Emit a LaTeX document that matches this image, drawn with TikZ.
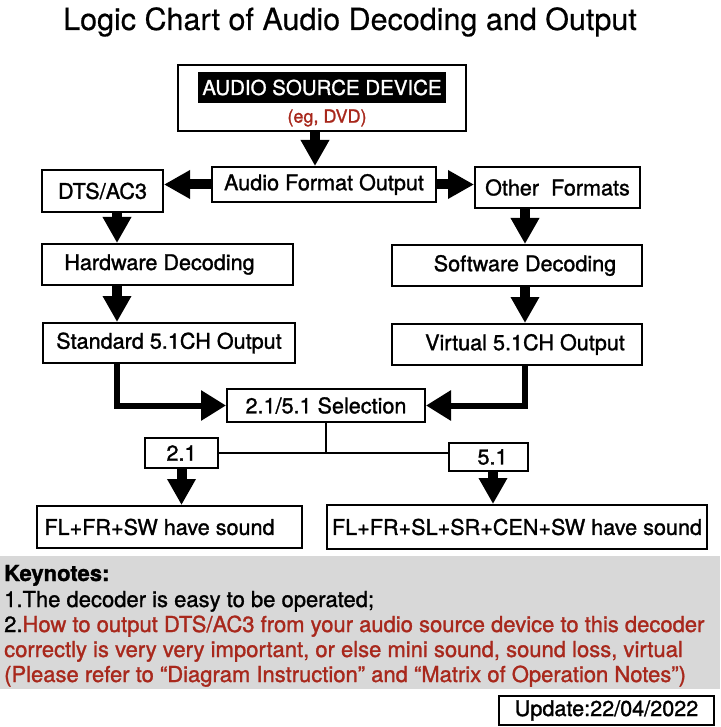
\documentclass[tikz,border=0pt]{standalone}
\usepackage{fontspec}
\setmainfont{TeX Gyre Heros}[FakeBold=1.3]
\newfontfamily\titlefont{TeX Gyre Heros}[FakeBold=0.5]
\usetikzlibrary{arrows.meta}
\definecolor{notered}{RGB}{168,40,28}
\definecolor{notegray}{RGB}{216,216,216}

\begin{document}
\begin{tikzpicture}[x=1pt, y=-1pt,
  every node/.style={inner sep=0pt, font=\fontsize{21.6}{26}\selectfont},
  box/.style={draw, line width=2pt, fill=white},
  fat/.style={line width=10pt, -{Triangle[width=27pt, length=26pt]}},
  elbow/.style={line width=6pt, -{Triangle[width=29pt, length=25pt]}},
  link/.style={line width=2pt},
  note/.style={anchor=base west, font=\fontsize{22}{25}\selectfont}]
  \useasboundingbox (0,0) rectangle (720,727);

  % title
  \node[anchor=base, font=\titlefont\fontsize{30.5}{36}\selectfont] (title) at (350,30) {Logic Chart of Audio Decoding and Output};

  % source
  \node[box, minimum width=288pt, minimum height=66pt] (src) at (322,98) {};
  \node[fill=black, text=white, minimum width=248pt, minimum height=31pt, font=\fontsize{20.5}{24}\selectfont] (srclabel) at (322,87.5) {AUDIO SOURCE DEVICE};
  \node[text=notered, font=\fontsize{18}{22}\selectfont] (srcnote) at (327,118) {(eg, DVD)};

  % chart boxes
  \node[box, minimum width=224pt, minimum height=35pt] (afo) at (324,184.5) {Audio Format Output};
  \node[box, minimum width=121pt, minimum height=42pt] (dts) at (102.5,191) {DTS/AC3};
  \node[box, minimum width=165pt, minimum height=41pt] (other) at (557.5,187.5) {Other\ \ Formats};
  \node[box, minimum width=251pt, minimum height=41pt] (hw) at (167.5,264.5) {Hardware Decoding\hspace*{16pt}};
  \node[box, minimum width=252pt, minimum height=40pt] (std) at (169,343) {Standard 5.1CH Output};
  \node[box, minimum width=250pt, minimum height=41pt] (sw) at (517,265.5) {\hspace*{16pt}Software Decoding};
  \node[box, minimum width=250pt, minimum height=41pt] (virt) at (517,344.5) {\hspace*{16pt}Virtual 5.1CH Output};
  \node[box, minimum width=198pt, minimum height=33pt] (sel) at (326,405.5) {2.1/5.1 Selection};
  \node[box, minimum width=73pt, minimum height=30pt] (two) at (181.5,453) {2.1};
  \node[box, minimum width=79pt, minimum height=28pt] (five) at (488.5,457) {\hspace*{8pt}5.1};
  \node[box, minimum width=265pt, minimum height=42pt] (twoout) at (169.5,527) {FL+FR+SW have sound\hspace*{20pt}};
  \node[box, minimum width=380pt, minimum height=44pt] (fiveout) at (517,527) {FL+FR+SL+SR+CEN+SW have sound};

  % arrow columns
  \coordinate (mx) at (315,0);
  \coordinate (lx) at (117,0);
  \coordinate (rx) at (525,0);
  \coordinate (fx) at (493,0);

  \draw[fat] (mx |- src.south) -- (mx |- afo.north);
  \draw[fat] (afo.west) -- (dts.east |- afo.west);
  \draw[fat] (afo.east) -- (other.west |- afo.east);
  \draw[fat] (lx |- dts.south) -- (lx |- hw.north);
  \draw[fat] (lx |- hw.south) -- (lx |- std.north);
  \draw[fat] (rx |- other.south) -- (rx |- sw.north);
  \draw[fat] (rx |- sw.south) -- (rx |- virt.north);
  \draw[elbow] (lx |- std.south) |- (sel.west);
  \draw[elbow] (rx |- virt.south) |- (sel.east);
  \draw[link] (sel.south) -- (sel.south |- two.east);
  \draw[link] (two.east) -- (five.west |- two.east);
  \draw[fat] (two.south) -- (two.south |- twoout.north);
  \draw[fat] (fx |- five.south) -- (fx |- fiveout.north);

  % keynotes
  \fill[notegray] (0,556) rectangle (720,689);
  \node[note, font=\fontsize{22}{25}\selectfont\bfseries] (keyhead) at (4,581) {Keynotes:};
  \node[note] (key1) at (4,607) {1.The decoder is easy to be operated;};
  \node[note] (key2) at (4,632) {2.\textcolor{notered}{How to output DTS/AC3 from your audio source device to this decoder}};
  \node[note, text=notered] (key3) at (4,657) {correctly is very very important, or else mini sound, sound loss, virtual};
  \node[note, text=notered] (key4) at (4,682) {(Please refer to “Diagram Instruction” and “Matrix of Operation Notes”)};

  \node[box, minimum width=215pt, minimum height=29pt] (upd) at (606.5,710.5) {Update:22/04/2022};
\end{tikzpicture}
\end{document}
